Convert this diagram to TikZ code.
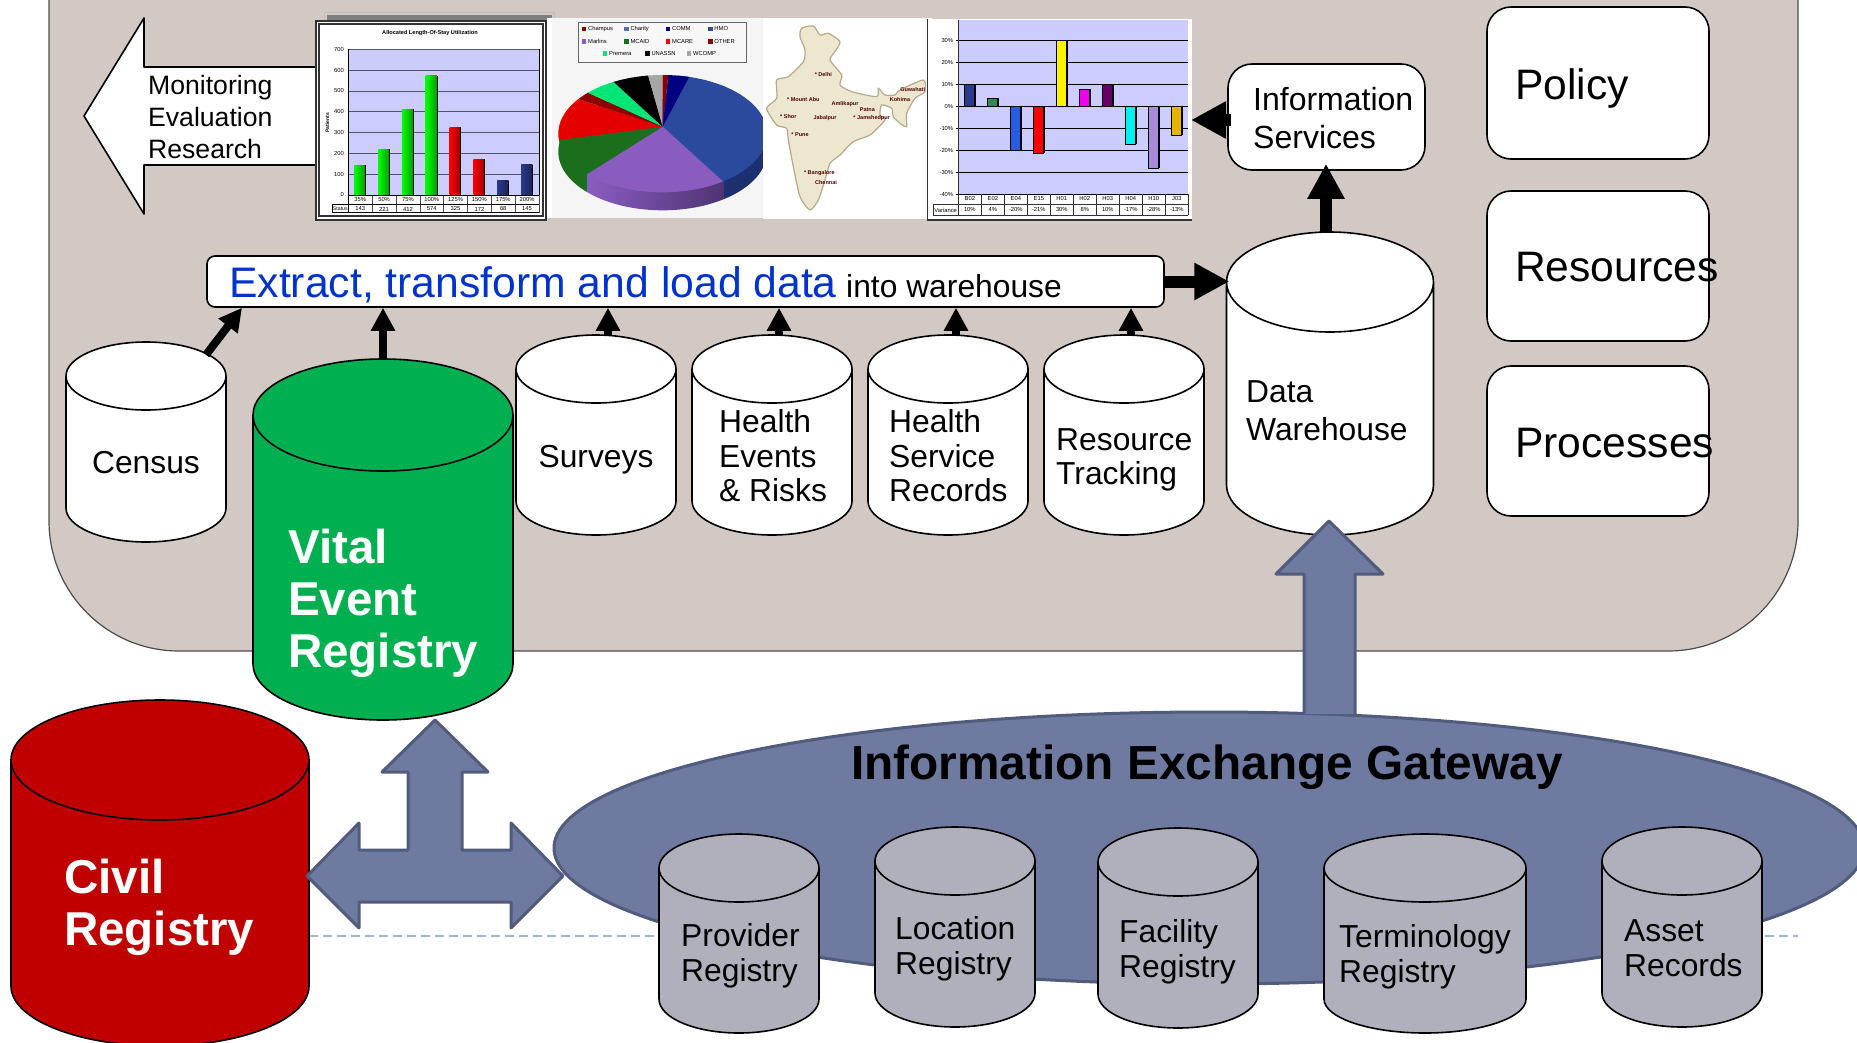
\documentclass[tikz,border=0pt]{standalone}
\usepackage{fontspec}
\setmainfont{Liberation Sans}
\usepackage{color}
\usetikzlibrary{positioning, arrows.meta, calc, shapes.geometric}
\definecolor{panelbg}{HTML}{D2C8C4}
\definecolor{slatefill}{HTML}{6F7AA1}
\definecolor{slateline}{HTML}{515B7C}
\definecolor{greyreg}{HTML}{B0B0BC}
\definecolor{plotbg}{HTML}{CCCCFF}
\definecolor{etlblue}{HTML}{0033CC}
\definecolor{vitalgreen}{HTML}{00B050}
\definecolor{civilred}{HTML}{C00000}
\definecolor{ruleblue}{HTML}{A0B6CE}
\definecolor{hmoblue}{HTML}{2B4A9E}
\definecolor{hmodark}{HTML}{1C2F6E}
\definecolor{marlins}{HTML}{8A5CC0}
\definecolor{marlinsdk}{HTML}{4F3473}
\definecolor{mcaid}{HTML}{1B6E1B}
\definecolor{mapfill}{HTML}{EEE7D0}
\definecolor{mapline}{HTML}{B5A98C}
\definecolor{navybar}{HTML}{2A3A8C}
\definecolor{barblue}{HTML}{2A5CE0}
\definecolor{barsea}{HTML}{2E8B57}
\definecolor{barmag}{HTML}{F000F0}
\definecolor{barplum}{HTML}{660066}
\definecolor{barcyan}{HTML}{00F0F0}
\definecolor{bargold}{HTML}{E6B400}
\definecolor{barlav}{HTML}{A98AD8}
\definecolor{premera}{HTML}{00E676}
\tikzset{>=stealth}
\tikzset{
  label28/.style={inner sep=0, anchor=west, align=left, font=\fontsize{26.6}{32}\selectfont},
  label32/.style={inner sep=0, anchor=west, align=left, font=\fontsize{31.8}{34.5}\selectfont},
  label42/.style={inner sep=0, anchor=west, font=\fontsize{42.6}{46}\selectfont},
  labelbold/.style={inner sep=0, anchor=west, align=left, text=white, font=\fontsize{47.5}{52}\selectfont\bfseries},
  barrelline/.style={draw=black, line width=1.6pt},
  whitebox/.style={draw=black, fill=white, line width=1.6pt, rounded corners=24pt, inner sep=0},
  slate/.style={draw=slateline, fill=slatefill, line width=3pt, line join=round},
  feed/.style={line width=8pt, -{Triangle[length=23pt,width=23pt]}},
  bigfeed/.style={line width=12pt, -{Triangle[length=35pt,width=35pt]}},
  tiny6/.style={inner sep=0, font=\fontsize{5.8}{7}\selectfont},
  city/.style={inner sep=0, text=red!30!black, font=\fontsize{5.5}{7}\selectfont\bfseries},
}
% name, centre x, top, bottom, half width, half height of the lid, style
\newcommand{\barrel}[7]{
  \draw[barrelline, #7] (#2-#5,#3+#6) -- (#2-#5,#4-#6) arc (180:0:#5 and #6)
    -- (#2+#5,#3+#6) arc (0:-180:#5 and #6) arc (180:0:#5 and #6);
  \node[inner sep=0, minimum width={2*#5}, minimum height={#4-#3}] (#1) at (#2,{(#3+#4)/2}) {};
}
\begin{document}
\begin{tikzpicture}[x=1pt, y=-1pt]
\useasboundingbox (0,0) rectangle (1857,1042);
\clip (0,0) rectangle (1857,1042);

% panel and dashed rule
\draw[draw=black!70, fill=panelbg, line width=1.2pt, rounded corners=130pt] (49,-60) -- (49,651) -- (1798,651) -- (1798,-60);
\coordinate (ruleL) at (295,936);
\coordinate (ruleR) at (1798,936);
\draw[dashed, dash pattern=on 9pt off 5pt, draw=ruleblue, line width=1.2pt] (ruleL) -- (ruleR);

% monitoring arrow
\draw[draw=black, fill=white, line width=1.6pt, line join=round] (317,67) -- (144,67) -- (144,18) -- (84,116) -- (144,214) -- (144,165) -- (317,165);
\node[label28] (monitor) at (148,117) {Monitoring\\Evaluation\\Research};

% first chart
\begin{scope}[shift={(300,0)}, x=.3333pt, y=-.3333pt]
\draw[fill=panelbg, draw=black!25] (72,38) rectangle (763,630);
\fill[black!50] (80,44) rectangle (755,630);
\draw[fill=white, draw=black!80, line width=2pt, double=white, double distance=1.5pt] (52,68) rectangle (733,654);
\fill[plotbg] (145,148) rectangle (717,585);
\foreach \n in {0,...,7} {
  \draw[draw=black!60!plotbg, line width=.8pt] (145,585-62.4*\n) -- (717,585-62.4*\n);
  \node[tiny6, anchor=east] (yl\n) at (132,585-62.4*\n) {\pgfmathparse{int(\n*100)}\pgfmathresult};
}
\foreach \i/\v/\pc/\c in {1/143/35/green, 2/221/50/green, 3/412/75/green, 4/574/100/green, 5/325/125/red, 6/172/150/red, 7/68/175/navybar, 8/145/200/navybar} {
  \shade[left color=\c, right color=\c!60!black] (145+71.5*\i-71.5/2-18,585) rectangle (145+71.5*\i-71.5/2+16,585-.624*\v);
  \draw[draw=black, line width=.9pt] (145+71.5*\i-71.5/2+16,585-.624*\v) -- ++(0,.624*\v);
  \node[tiny6] (pc\i) at (145+71.5*\i-71.5/2,598) {\pc\%};
  \node[tiny6] (ct\i) at (145+71.5*\i-71.5/2,627) {\v};
  \draw[draw=black!70, line width=.5pt] (145+71.5*\i,585) -- (145+71.5*\i,638);
}
\draw[draw=black, line width=.7pt] (145,148) -- (145,638) (717,148) -- (717,585) (97,612) -- (717,612) (97,638) -- (717,638) (97,612) -- (97,638) (145,585) -- (717,585);
\node[inner sep=0, font=\fontsize{5.2}{7}\selectfont] (status) at (121,627) {Status};
\node[inner sep=0, font=\fontsize{5.6}{7}\selectfont\bfseries] (title1) at (390,99) {Allocated Length-Of-Stay Utilization};
\node[inner sep=0, rotate=90, font=\fontsize{5}{6}\selectfont\bfseries] (patients) at (82,368) {Patients};
\end{scope}

% pie chart
\begin{scope}[shift={(300,0)}, x=.3333pt, y=-.3333pt]
\fill[white] (740,54) rectangle (755,654);
\fill[black!4] (755,54) rectangle (1390,654);
\draw[draw=black!60, fill=black!3, line width=.8pt] (835,66) rectangle (1340,186);
\foreach \x/\y/\c/\t in {852/87/red!55!black/Champus, 979/87/hmoblue!80!white/Charity, 1104/87/blue!50!black/COMM, 1231/87/hmoblue/HMO\,/\,PPO, 852/124/marlins/Marlins, 979/124/mcaid/MCAID, 1104/124/red/MCARE, 1231/124/red!55!black/OTHER, 915/161/premera/Premera, 1042/161/black/UNASSN, 1167/161/black!35/WCOMP} {
  \fill[\c] (\x-7,\y-7) rectangle (\x+7,\y+7);
  \node[tiny6, anchor=west] (lg\x\y) at (\x+12,\y) {\t};
}
\coordinate (pieC) at (1088,380);
\begin{scope}
\clip (1088,455) ellipse (313 and 176);
\fill[mcaid] (700,300) rectangle (862,700);
\shade[left color=marlins, right color=marlinsdk] (862,300) rectangle (1272,700);
\fill[hmodark] (1272,300) rectangle (1500,700);
\end{scope}
\begin{scope}
\clip (1088,401) ellipse (313 and 176);
\fill[hmoblue] (pieC) -- (1168,100) -- (1600,100) -- (1600,700) -- ($(pieC)!2.5!(1270,545)$) -- cycle;
\fill[marlins] (pieC) -- ($(pieC)!2.5!(1270,545)$) -- ($(pieC)!2.5!(862,522)$) -- cycle;
\fill[mcaid] (pieC) -- ($(pieC)!2.5!(862,522)$) -- ($(pieC)!2.5!(778,420)$) -- cycle;
\fill[red!90!black] (pieC) -- ($(pieC)!2.5!(778,420)$) -- ($(pieC)!2.5!(838,298)$) -- cycle;
\fill[red!55!black] (pieC) -- ($(pieC)!2.5!(838,298)$) -- ($(pieC)!2.5!(868,280)$) -- cycle;
\fill[premera] (pieC) -- ($(pieC)!2.5!(868,280)$) -- ($(pieC)!2.5!(940,245)$) -- cycle;
\fill[black] (pieC) -- ($(pieC)!2.5!(940,245)$) -- ($(pieC)!2.5!(1045,228)$) -- cycle;
\fill[black!35] (pieC) -- ($(pieC)!2.5!(1045,228)$) -- ($(pieC)!2.5!(1088,225)$) -- cycle;
\fill[red!55!black] (pieC) -- ($(pieC)!2.5!(1088,225)$) -- ($(pieC)!2.5!(1105,225)$) -- cycle;
\fill[blue!50!black] (pieC) -- ($(pieC)!2.5!(1105,225)$) -- ($(pieC)!2.5!(1168,230)$) -- cycle;
\end{scope}
\end{scope}

% map
\begin{scope}[shift={(760,0)}, x=.3333pt, y=-.3333pt]
\fill[white] (8,54) rectangle (515,657);
\draw[draw=mapline, fill=mapfill, line width=1.2pt] plot[smooth cycle, tension=.4] coordinates {(125,85) (160,78) (180,105) (205,100) (240,125) (225,155) (210,180) (245,225) (240,255) (275,275) (350,290) (355,265) (375,285) (405,285) (420,270) (490,240) (495,275) (465,295) (440,340) (440,380) (420,370) (400,350) (395,325) (365,315) (360,345) (375,360) (330,405) (280,425) (240,465) (210,490) (195,540) (175,600) (150,630) (120,590) (100,500) (85,420) (80,385) (50,375) (20,325) (50,295) (50,240) (85,230) (130,185) (135,150) (120,110)};
\foreach \x/\y/\t in {190/225/{* Delhi}, 130/300/{* Mount Abu}, 255/313/{Amlikapur}, 322/330/{Patna}, 85/350/{* Shor}, 195/353/{Jabalpur}, 335/354/{* Jamshedpur}, 120/405/{* Pune}, 178/520/{* Bangalore}, 198/548/{Chennai}, 458/270/{Guwahati}, 420/298/{Kohima}} {
  \node[city] (ct\x) at (\x,\y) {\t};
}
\end{scope}

% second chart
\begin{scope}[shift={(760,0)}, x=.3333pt, y=-.3333pt]
\fill[white] (503,57) rectangle (1295,660);
\draw[draw=black!80, line width=1.5pt] (503,57) -- (503,660) -- (1295,660);
\fill[plotbg] (595,60) rectangle (1285,582);
\foreach \n/\t in {0/-40, 1/-30, 2/-20, 3/-10, 4/0, 5/10, 6/20, 7/30} {
  \draw[draw=black, line width=.9pt] (588,583-66*\n) -- (1285,583-66*\n);
  \node[tiny6, anchor=east] (yr\n) at (580,583-66*\n) {\t\%};
}
\foreach \i/\v/\c/\t in {1/10/navybar/B02, 2/4/barsea/E02, 3/-20/barblue/E04, 4/-21/red/E15, 5/30/yellow/H01, 6/8/barmag/H02, 7/10/barplum/H03, 8/-17/barcyan/H04, 9/-28/barlav/H10, 10/-13/bargold/J03} {
  \draw[fill=\c, draw=black, line width=.7pt] (595+69*\i-69/2-17,320) rectangle (595+69*\i-69/2+15,320-6.6*\v);
  \draw[draw=black, line width=1.3pt] (595+69*\i-69/2+16,320) -- (595+69*\i-69/2+16,320-6.6*\v);
  \node[tiny6] (cd\i) at (595+69*\i-69/2,597) {\t};
  \node[tiny6] (vr\i) at (595+69*\i-69/2,630) {\v\%};
  \draw[draw=black!80, line width=.7pt] (595+69*\i,582) -- (595+69*\i,645);
}
\draw[draw=black!80, line width=.7pt] (595,60) -- (595,645) (520,612) -- (1285,612) (520,645) -- (1285,645) (520,612) -- (520,645);
\node[tiny6] (variance) at (557,632) {Variance};
\end{scope}

% registries inside the panel
\barrel{census}{146}{342}{542}{80}{34}{fill=white}
\barrel{vital}{383}{359}{720}{130}{56}{fill=vitalgreen}
\barrel{surveys}{596}{335}{535}{80}{34}{fill=white}
\barrel{events}{772}{335}{535}{80}{34}{fill=white}
\barrel{service}{948}{335}{535}{80}{34}{fill=white}
\barrel{tracking}{1124}{335}{535}{80}{34}{fill=white}
\barrel{warehouse}{1330}{232}{535}{103.5}{50}{fill=white}
\node[label32, anchor=center] (censuslbl) at (146,463) {Census};
\node[labelbold] (vitallbl) at (288,603) {Vital\\Event\\Registry};
\node[label32, anchor=center] (surveyslbl) at (596,460) {Surveys};
\node[label32] (eventslbl) at (719,456) {Health\\Events\\\& Risks};
\node[label32] (servicelbl) at (889,456) {Health\\Service\\Records};
\node[label32] (trackinglbl) at (1056,460) {Resource\\Tracking};
\node[label32, font=\fontsize{31.8}{38}\selectfont] (warehouselbl) at (1246,411) {Data\\Warehouse};

% boxes on the right
\node[whitebox, minimum width=197, minimum height=106] (infoservices) at (1326.5,117) {};
\node[label32, font=\fontsize{32}{37.5}\selectfont] (infolbl) at (1253,118) {Information\\Services};
\node[whitebox, minimum width=222, minimum height=152] (policy) at (1598,83) {};
\node[whitebox, minimum width=222, minimum height=150] (resources) at (1598,266) {};
\node[whitebox, minimum width=222, minimum height=150] (processes) at (1598,441) {};
\node[label42] (policylbl) at (1515,88) {Policy};
\node[label42] (resourceslbl) at (1515,267) {Resources};
\node[label42] (processeslbl) at (1515,443) {Processes};

% extract band
\node[draw=black, fill=white, line width=1.6pt, rounded corners=8pt, inner sep=0, minimum width=957, minimum height=51] (extract) at (685.5,281.5) {};
\node[inner sep=0, anchor=base west, text=etlblue, font=\fontsize{42.7}{46}\selectfont] (extractlbl) at (229,297) {Extract, transform and load data};
\node[inner sep=0, font=\fontsize{31.8}{36}\selectfont, anchor=base west] (intolbl) at (846,297) {into warehouse};

% feeds
\draw[feed] ([xshift=60pt,yshift=-13pt]census.north) -- ([xshift=-443.5pt]extract.south);
\draw[feed] (vital.north) -- (vital.north |- extract.south);
\foreach \src/\dx in {surveys/12, events/7, service/8, tracking/7}
  \draw[feed] ([xshift=\dx pt]\src.north) -- ([xshift=\dx pt]\src.north |- extract.south);
\draw[bigfeed] (extract.east) -- ([xshift=3pt]warehouse.north west |- extract.east);
\draw[bigfeed] ([xshift=-4pt]warehouse.north) -- ([xshift=-4pt,yshift=7pt]warehouse.north |- infoservices.south);
\coordinate (chartend) at (1191,120);
\draw[bigfeed] ([xshift=4pt,yshift=-3pt]infoservices.west) -- (chartend);

% gateway
\node[draw=slateline, fill=slatefill, line width=3pt, ellipse, inner sep=0, minimum width=1310, minimum height=272] (gateway) at (1209,848) {} ;
\node[inner sep=0, font=\fontsize{47.8}{54}\selectfont\bfseries] (gatewaylbl) at (1207,767) {Information Exchange Gateway};
\barrel{provider}{739}{834}{1033}{80}{34}{fill=greyreg}
\barrel{location}{955}{827}{1027}{80}{34}{fill=greyreg}
\barrel{facility}{1178}{828}{1028}{80}{34}{fill=greyreg}
\barrel{terminology}{1425}{834}{1033}{101}{34}{fill=greyreg}
\barrel{asset}{1682}{827}{1027}{80}{34}{fill=greyreg}
\node[label32] (providerlbl) at (681,956) {Provider\\Registry};
\node[label32] (locationlbl) at (895,949) {Location\\Registry};
\node[label32] (facilitylbl) at (1119,952) {Facility\\Registry};
\node[label32] (terminologylbl) at (1339,957) {Terminology\\Registry};
\node[label32] (assetlbl) at (1624,948) {Asset\\Records};

% wide arrows
\draw[slate] (1304,714) -- (1304,574) -- (1276,574) -- (1329,521) -- (1383,574) -- (1355,574) -- (1355,714);
\barrel{civil}{160}{700}{1046}{149}{60}{fill=civilred}
\node[labelbold] (civillbl) at (64,907) {Civil\\Registry};
\draw[slate] (435,720) -- (488,772) -- (462,772) -- (462,850) -- (511,850) -- (511,823) -- (563,876) -- (511,928) -- (511,902) -- (359,902) -- (359,928) -- (307,876) -- (359,823) -- (359,850) -- (408,850) -- (408,772) -- (382,772) -- cycle;
\end{tikzpicture}
\end{document}
